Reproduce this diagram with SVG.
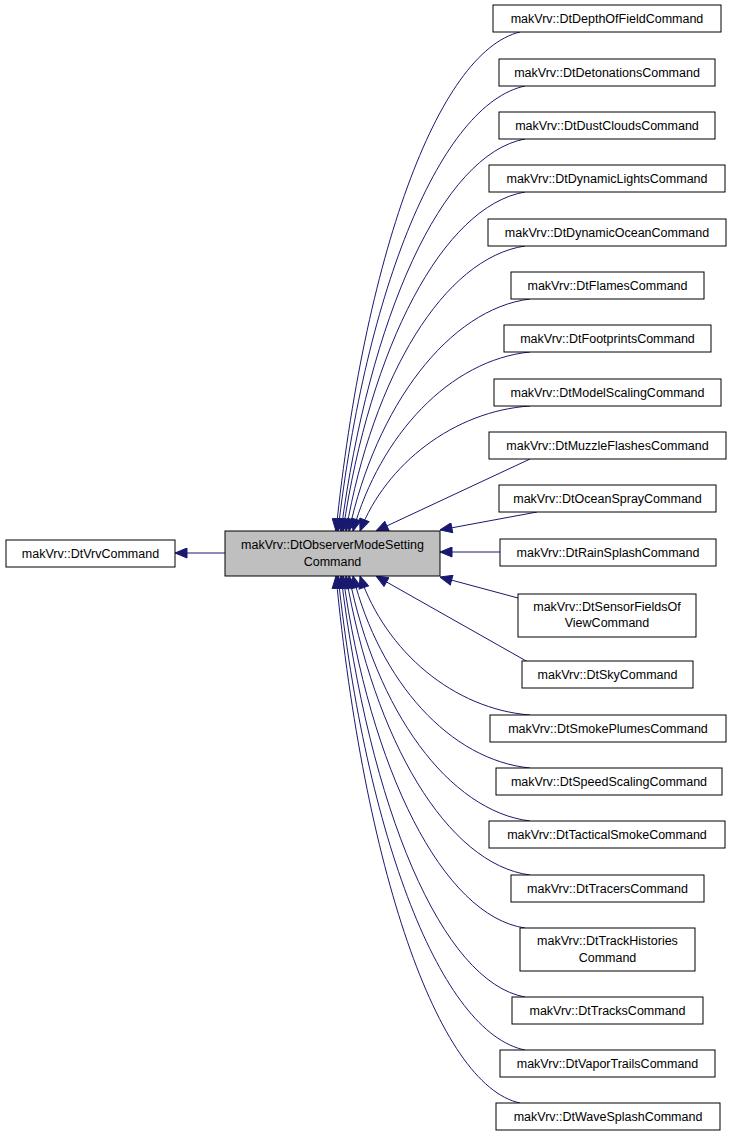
<svg xmlns="http://www.w3.org/2000/svg" width="733" height="1139" viewBox="0 0 733 1139">
<style>
.n rect{fill:#fff;stroke:#000;stroke-width:1}
.n text{font-family:"Liberation Sans",Arial,sans-serif;font-size:12.5px;text-anchor:middle;fill:#000}
#e path{fill:none;stroke:#191970;stroke-width:1;marker-start:url(#a)}
</style>
<defs><marker id="a" markerUnits="userSpaceOnUse" markerWidth="14" markerHeight="12" refX="0" refY="5" orient="auto"><polygon points="0,5 12,0 12,10" fill="#191970" stroke="#191970"/></marker></defs>
<rect width="733" height="1139" fill="#fff"/>
<g id="e">
<path d="M175,553 L225,553"/>
<path d="M336,531 C364,259 437,52 520,32"/>
<path d="M338,531 C366,288 441,104 525,86"/>
<path d="M341,531 C369,318 442,154 525,139"/>
<path d="M343,531 C370,347 443,206 525,192"/>
<path d="M346,531 C373,376 444,258 525,246"/>
<path d="M349,531 C376,406 449,309 530,299"/>
<path d="M353,531 C380,435 450,360 530,352"/>
<path d="M360,531 C386,464 454,411 530,406"/>
<path d="M376,531 L530,459"/>
<path d="M440,530 L537,512"/>
<path d="M440,552 L500,552"/>
<path d="M440,577 L518,598"/>
<path d="M376,576 L528,662"/>
<path d="M360,576 C386,652 454,709 530,715"/>
<path d="M353,576 C380,682 450,760 530,768"/>
<path d="M349,576 C376,711 449,811 530,821"/>
<path d="M346,576 C374,740 447,864 530,875"/>
<path d="M343,576 C370,770 443,916 525,928"/>
<path d="M341,576 C369,808 442,982 525,997"/>
<path d="M338,576 C366,837 441,1033 525,1050"/>
<path d="M336,576 C364,866 437,1085 520,1103"/>
</g>
<g id="n0" class="n"><rect x="6" y="540" width="169" height="27"/><text x="90.5" y="558">makVrv::DtVrvCommand</text></g>
<g id="n1" class="n"><rect x="225" y="531" width="215" height="45" style="fill:#bfbfbf"/><text x="332.5" y="549">makVrv::DtObserverModeSetting</text><text x="332.5" y="566">Command</text></g>
<g id="c1" class="n"><rect x="493" y="5" width="228" height="27"/><text x="607" y="23">makVrv::DtDepthOfFieldCommand</text></g>
<g id="c2" class="n"><rect x="499" y="59" width="216" height="27"/><text x="607" y="77">makVrv::DtDetonationsCommand</text></g>
<g id="c3" class="n"><rect x="499" y="112" width="216" height="27"/><text x="607" y="130">makVrv::DtDustCloudsCommand</text></g>
<g id="c4" class="n"><rect x="489" y="165" width="236" height="27"/><text x="607" y="183">makVrv::DtDynamicLightsCommand</text></g>
<g id="c5" class="n"><rect x="488" y="219" width="238" height="27"/><text x="607" y="237">makVrv::DtDynamicOceanCommand</text></g>
<g id="c6" class="n"><rect x="511" y="272" width="193" height="27"/><text x="607.5" y="290">makVrv::DtFlamesCommand</text></g>
<g id="c7" class="n"><rect x="504" y="325" width="207" height="27"/><text x="607.5" y="343">makVrv::DtFootprintsCommand</text></g>
<g id="c8" class="n"><rect x="494" y="379" width="227" height="27"/><text x="607.5" y="397">makVrv::DtModelScalingCommand</text></g>
<g id="c9" class="n"><rect x="489" y="432" width="237" height="27"/><text x="607.5" y="450">makVrv::DtMuzzleFlashesCommand</text></g>
<g id="c10" class="n"><rect x="499" y="485" width="217" height="27"/><text x="607.5" y="503">makVrv::DtOceanSprayCommand</text></g>
<g id="c11" class="n"><rect x="500" y="539" width="216" height="27"/><text x="608" y="557">makVrv::DtRainSplashCommand</text></g>
<g id="c12" class="n"><rect x="518" y="594" width="178" height="43"/><text x="607" y="611">makVrv::DtSensorFieldsOf</text><text x="607" y="627">ViewCommand</text></g>
<g id="c13" class="n"><rect x="522" y="661" width="171" height="27"/><text x="607.5" y="679">makVrv::DtSkyCommand</text></g>
<g id="c14" class="n"><rect x="490" y="715" width="236" height="27"/><text x="608" y="733">makVrv::DtSmokePlumesCommand</text></g>
<g id="c15" class="n"><rect x="496" y="768" width="226" height="27"/><text x="609" y="786">makVrv::DtSpeedScalingCommand</text></g>
<g id="c16" class="n"><rect x="489" y="821" width="236" height="27"/><text x="607" y="839">makVrv::DtTacticalSmokeCommand</text></g>
<g id="c17" class="n"><rect x="511" y="875" width="193" height="27"/><text x="607.5" y="893">makVrv::DtTracersCommand</text></g>
<g id="c18" class="n"><rect x="520" y="928" width="175" height="43"/><text x="607.5" y="945">makVrv::DtTrackHistories</text><text x="607.5" y="962">Command</text></g>
<g id="c19" class="n"><rect x="512" y="997" width="191" height="27"/><text x="607.5" y="1015">makVrv::DtTracksCommand</text></g>
<g id="c20" class="n"><rect x="500" y="1050" width="215" height="27"/><text x="607.5" y="1068">makVrv::DtVaporTrailsCommand</text></g>
<g id="c21" class="n"><rect x="496" y="1103" width="224" height="27"/><text x="608" y="1121">makVrv::DtWaveSplashCommand</text></g>
</svg>
